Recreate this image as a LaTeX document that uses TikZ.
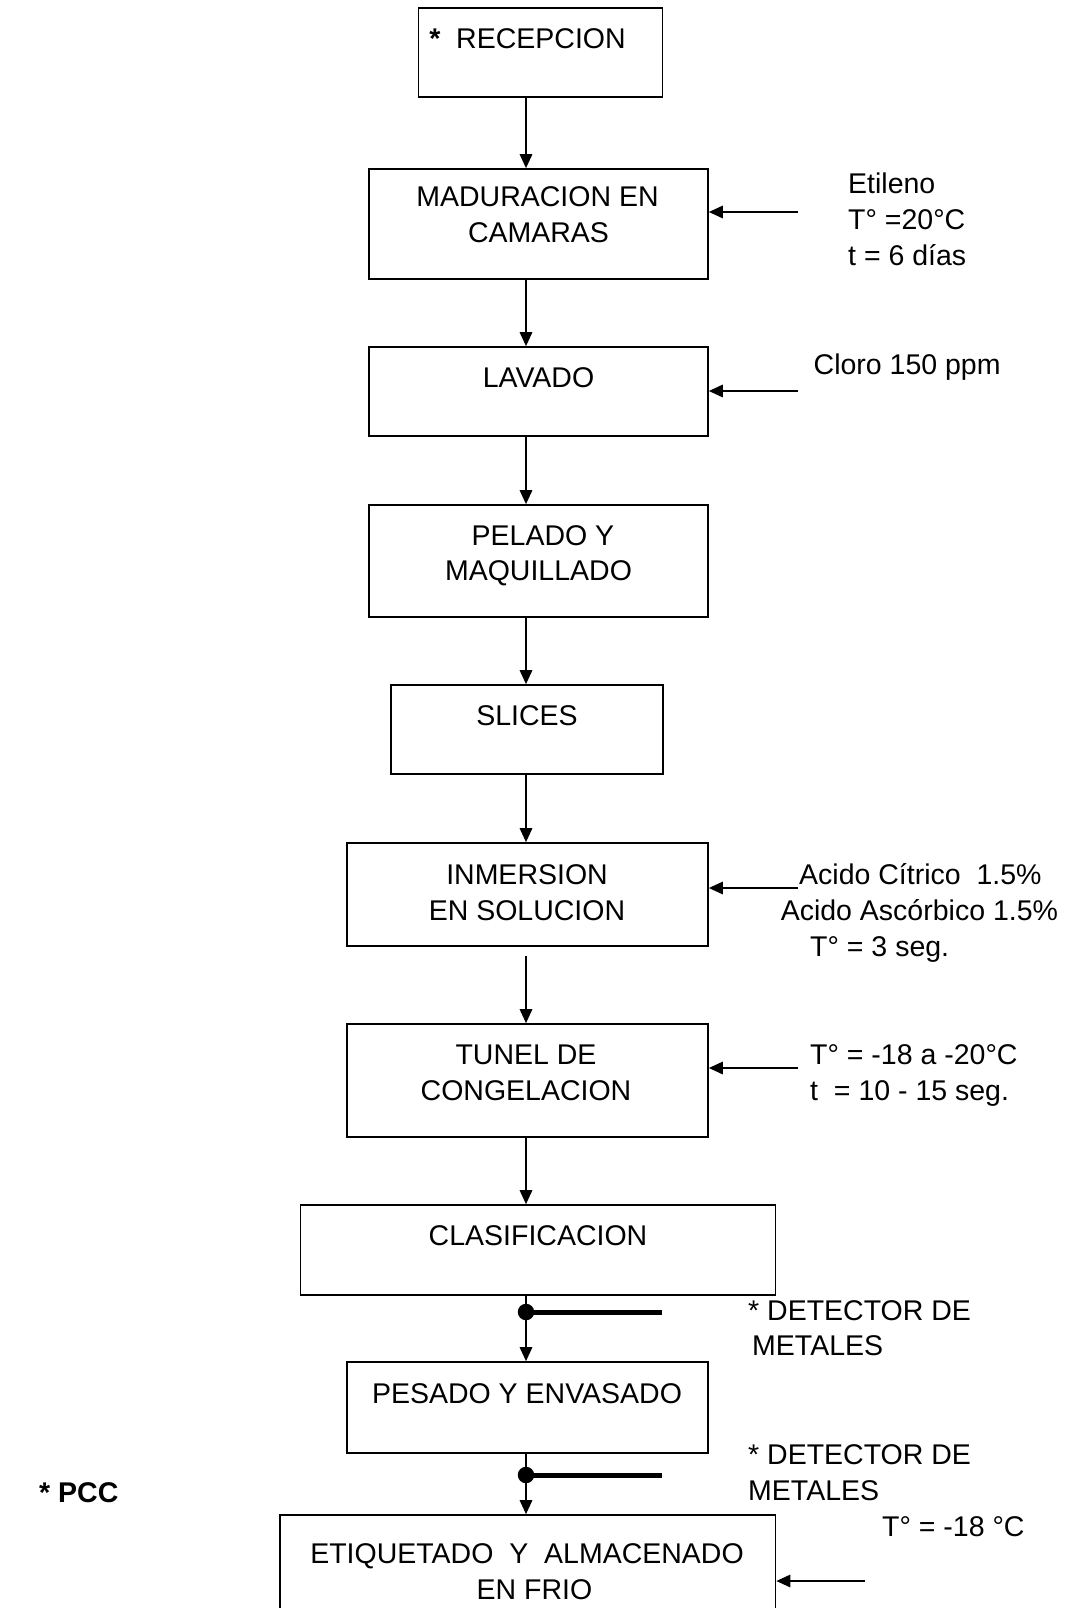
\documentclass[tikz,border=0pt]{standalone}
\usepackage{fontspec}
\setmainfont{Liberation Sans}
\usetikzlibrary{arrows.meta}
\begin{document}
\begin{tikzpicture}[x=1pt,y=-1pt,
  stepbox/.style 2 args={draw, line width=1.7pt, minimum width=#1, minimum height=#2, inner sep=0pt},
  lbl/.style={inner sep=0pt, text height=20.4pt, text depth=0pt, font=\fontsize{28.5}{34}\selectfont},
  lbll/.style={lbl, anchor=west},
  arr/.style={line width=1.6pt, -{Triangle[length=14pt,width=12.5pt]}},
  detdot/.style={circle, fill=black, inner sep=0pt, minimum size=16.5pt},
  detbar/.style={line width=5pt}
]
\useasboundingbox (0,0) rectangle (1075,1608);
\fill[white] (0,0) rectangle (1075,1608);
\coordinate (sp) at (526,0);

% boxes
\node[stepbox={244pt}{89pt}] (b1) at (540.6,52.8) {};
\node[stepbox={339pt}{110pt}] (b2) at (538.5,224) {};
\node[stepbox={339pt}{89pt}] (b3) at (538.5,391.5) {};
\node[stepbox={339pt}{112pt}] (b4) at (538.5,561) {};
\node[stepbox={272pt}{89pt}] (b5) at (527,729.5) {};
\node[stepbox={361pt}{103pt}] (b6) at (527.5,894.5) {};
\node[stepbox={361pt}{113pt}] (b7) at (527.5,1080.5) {};
\node[stepbox={475pt}{90pt}] (b8) at (538,1250) {};
\node[stepbox={361pt}{91pt}] (b9) at (527.5,1407.5) {};
\node[stepbox={495.5pt}{112pt}] (b10) at (527.75,1571) {};

% box texts
\node[lbl] (t1) at (527.5,38) {\textbf{*}\ \ RECEPCION};
\node[lbl] (t2a) at (537.5,196) {MADURACION EN};
\node[lbl] (t2b) at (538.5,232) {CAMARAS};
\node[lbl] (t3) at (538.5,377.5) {LAVADO};
\node[lbl] (t4a) at (543,535.5) {PELADO Y};
\node[lbl] (t4b) at (538.5,570) {MAQUILLADO};
\node[lbl] (t5) at (527,715) {SLICES};
\node[lbl] (t6a) at (527,874) {INMERSION};
\node[lbl] (t6b) at (527,910) {EN SOLUCION};
\node[lbl] (t7a) at (526,1054.5) {TUNEL DE};
\node[lbl] (t7b) at (526,1090.5) {CONGELACION};
\node[lbl] (t8) at (538,1235) {CLASIFICACION};
\node[lbl] (t9) at (527,1393) {PESADO Y ENVASADO};
\node[lbl] (t10a) at (527,1553) {ETIQUETADO\ \ Y\ \ ALMACENADO};
\node[lbl] (t10b) at (534.5,1589) {EN FRIO};

% side texts
\node[lbll] (s2a) at (848,183.6) {Etileno};
\node[lbll] (s2b) at (848,219.5) {T° =20°C};
\node[lbll] (s2c) at (848,255.4) {t = 6 días};
\node[lbll] (s3) at (813.5,364) {Cloro 150 ppm};
\node[lbll] (s6a) at (799,874) {Acido Cítrico\ \ 1.5\%};
\node[lbll] (s6b) at (780.6,910) {Acido Ascórbico 1.5\%};
\node[lbll] (s6c) at (810,946) {T° = 3 seg.};
\node[lbll] (s7a) at (810,1054.5) {T° = -18 a -20°C};
\node[lbll] (s7b) at (810,1090.5) {t\ \ = 10 - 15 seg.};
\node[lbll] (m1a) at (748,1310) {* DETECTOR DE};
\node[lbll] (m1b) at (752,1345) {METALES};
\node[lbll] (m2a) at (748,1454.6) {* DETECTOR DE};
\node[lbll] (m2b) at (748,1490.5) {METALES};
\node[lbll] (s10) at (882,1526) {T° = -18 °C};
\node[lbll] (pcc) at (39,1492.6) {\textbf{* PCC}};

% vertical flow
\draw[arr] (b1.south -| sp) -- (b2.north -| sp);
\draw[arr] (b2.south -| sp) -- (b3.north -| sp);
\draw[arr] (b3.south -| sp) -- (b4.north -| sp);
\draw[arr] (b4.south -| sp) -- (b5.north -| sp);
\draw[arr] (b5.south -| sp) -- (b6.north -| sp);
\coordinate (g6) at (526,956);
\draw[arr] (g6) -- (b7.north -| sp);
\draw[arr] (b7.south -| sp) -- (b8.north -| sp);
\draw[arr] (b8.south -| sp) -- (b9.north -| sp);
\draw[arr] (b9.south -| sp) -- (b10.north -| sp);

% detectors
\node[detdot] (d1) at (526,1312) {};
\coordinate (d1e) at (662,1312);
\draw[detbar] (d1.center) -- (d1e);
\node[detdot] (d2) at (526,1475) {};
\coordinate (d2e) at (662,1475);
\draw[detbar] (d2.center) -- (d2e);

% side inputs
\coordinate (a2) at (798,212);
\draw[arr] (a2) -- (a2 -| b2.east);
\coordinate (a3) at (798,391);
\draw[arr] (a3) -- (a3 -| b3.east);
\coordinate (a6) at (798,888);
\draw[arr] (a6) -- (a6 -| b6.east);
\coordinate (a7) at (798,1068);
\draw[arr] (a7) -- (a7 -| b7.east);
\coordinate (a10) at (865,1581);
\draw[arr] (a10) -- (a10 -| b10.east);
\end{tikzpicture}
\end{document}
